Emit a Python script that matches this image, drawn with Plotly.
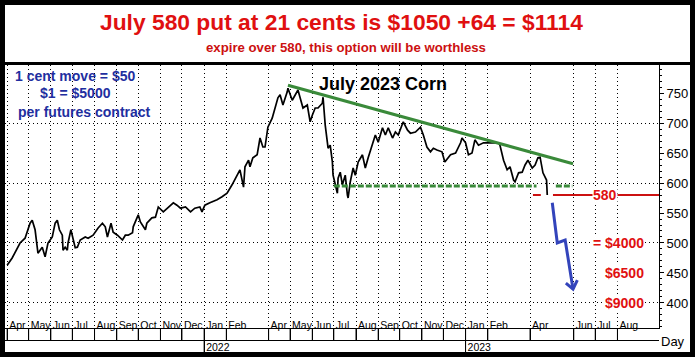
import plotly.graph_objects as go

# ---------------- data ----------------
dates = [
    "2021-04-01", "2021-04-08", "2021-04-19", "2021-04-26", "2021-05-03", "2021-05-06",
    "2021-05-10", "2021-05-13", "2021-05-14", "2021-05-20", "2021-05-24", "2021-05-28",
    "2021-06-03", "2021-06-07", "2021-06-10", "2021-06-13", "2021-06-17", "2021-06-18",
    "2021-06-21", "2021-06-24", "2021-06-25", "2021-06-29", "2021-07-01", "2021-07-05",
    "2021-07-08", "2021-07-12", "2021-07-19", "2021-07-23", "2021-07-30", "2021-08-06",
    "2021-08-12", "2021-08-16", "2021-08-19", "2021-08-24", "2021-08-27", "2021-09-02",
    "2021-09-09", "2021-09-13", "2021-09-17", "2021-09-23", "2021-09-24", "2021-10-01",
    "2021-10-04", "2021-10-11", "2021-10-13", "2021-10-20", "2021-10-25", "2021-10-29",
    "2021-11-05", "2021-11-12", "2021-11-19", "2021-11-24", "2021-11-29", "2021-12-06",
    "2021-12-13", "2021-12-19", "2021-12-26", "2021-12-29", "2022-01-02", "2022-01-09",
    "2022-01-19", "2022-01-26", "2022-02-02", "2022-02-09", "2022-02-11", "2022-02-20",
    "2022-02-25", "2022-02-27", "2022-03-04", "2022-03-06", "2022-03-10", "2022-03-16",
    "2022-03-20", "2022-03-23", "2022-03-24", "2022-03-27", "2022-03-30", "2022-03-31",
    "2022-04-06", "2022-04-10", "2022-04-14", "2022-04-17", "2022-04-21", "2022-04-27",
    "2022-04-28", "2022-05-04", "2022-05-08", "2022-05-12", "2022-05-15", "2022-05-19",
    "2022-05-25", "2022-05-29", "2022-06-01", "2022-06-05", "2022-06-09", "2022-06-15",
    "2022-06-16", "2022-06-19", "2022-06-22", "2022-06-23", "2022-06-26", "2022-06-29",
    "2022-06-30", "2022-07-03", "2022-07-06", "2022-07-07", "2022-07-10", "2022-07-13",
    "2022-07-17", "2022-07-20", "2022-07-21", "2022-07-24", "2022-07-28", "2022-07-31",
    "2022-08-04", "2022-08-10", "2022-08-14", "2022-08-18", "2022-08-24", "2022-08-28",
    "2022-09-01", "2022-09-07", "2022-09-11", "2022-09-15", "2022-09-21", "2022-09-25",
    "2022-09-29", "2022-10-05", "2022-10-06", "2022-10-12", "2022-10-16", "2022-10-23",
    "2022-10-30", "2022-11-03", "2022-11-08", "2022-11-13", "2022-11-17", "2022-11-22",
    "2022-11-29", "2022-12-03", "2022-12-11", "2022-12-18", "2022-12-25", "2022-12-27",
    "2023-01-01", "2023-01-05", "2023-01-10", "2023-01-14", "2023-01-19", "2023-01-26",
    "2023-02-02", "2023-02-09", "2023-02-16", "2023-02-18", "2023-02-23", "2023-02-28",
    "2023-03-04", "2023-03-09", "2023-03-11", "2023-03-16", "2023-03-21", "2023-03-25",
    "2023-03-29", "2023-04-04", "2023-04-08", "2023-04-12", "2023-04-15", "2023-04-19",
    "2023-04-24", "2023-04-25",
]
prices = [
    463, 475, 500, 508, 533, 538,
    522, 493, 483, 493, 477, 500,
    510, 533, 538, 522, 513, 488,
    493, 488, 500, 522, 510, 492,
    493, 505, 510, 508, 513, 525,
    533, 527, 510, 533, 518, 513,
    505, 513, 513, 517, 527, 547,
    535, 522, 533, 542, 543, 560,
    552, 560, 567, 563, 558, 560,
    552, 558, 560, 552, 563, 567,
    572, 577, 583, 597, 602, 622,
    593, 627, 638, 627, 642, 647,
    675, 663, 660, 660, 688, 693,
    708, 725, 742, 747, 730, 752,
    758, 738, 747, 755, 742, 725,
    730, 702, 713, 725, 725, 733,
    743, 697, 668, 658, 663, 635,
    613, 597, 583, 608, 618, 597,
    613, 580, 575, 602, 625, 613,
    635, 647, 625, 642, 663, 680,
    668, 692, 680, 692, 675, 685,
    680, 697, 702, 688, 683, 685,
    693, 680, 660, 652, 658, 655,
    652, 635, 647, 650, 667, 675,
    667, 647, 650, 672, 663, 667,
    667, 667, 667, 663, 638, 622,
    627, 605, 602, 617, 618, 630,
    638, 625, 630, 642, 643, 617,
    605, 580,
]

trend_dates = ["2022-04-28", "2023-05-31"]
trend_values = [763, 632]
support_dates_a = ["2022-07-01", "2023-04-10"]
support_dates_b = ["2023-05-07", "2023-05-30"]
support_level = 595
strike_level = 580
strike_short_dates = ["2023-04-05", "2023-04-16"]
strike_long_dates = ["2023-05-03", "2023-09-28"]
arrow_dates = ["2023-05-02", "2023-05-09", "2023-05-20", "2023-05-31"]
arrow_values = [567, 500, 505, 423]
head_dates = ["2023-05-21", "2023-05-31", "2023-06-06"]
head_values = [433, 423, 438]

month_ticks = [
    "2021-04-01", "2021-05-01", "2021-06-01", "2021-07-01", "2021-08-01", "2021-09-01",
    "2021-10-01", "2021-11-01", "2021-12-01", "2022-01-01", "2022-02-01", "2022-04-01",
    "2022-05-01", "2022-06-01", "2022-07-01", "2022-08-01", "2022-09-01", "2022-10-01",
    "2022-11-01", "2022-12-01", "2023-01-01", "2023-02-01", "2023-04-01", "2023-06-01",
    "2023-07-01", "2023-08-01",
]
month_labels = [
    "Apr", "May", "Jun", "Jul", "Aug", "Sep", "Oct", "Nov", "Dec", "Jan", "Feb", "Apr",
    "May", "Jun", "Jul", "Aug", "Sep", "Oct", "Nov", "Dec", "Jan", "Feb", "Apr", "Jun",
    "Jul", "Aug",
]
year_ticks = ["2022-01-01", "2023-01-01"]
year_labels = ["2022", "2023"]
price_ticks = [400, 450, 500, 550, 600, 650, 700, 750]
grid_levels = [400, 500, 600, 700]
money_levels = [500, 450, 400]
money_labels = ["= $4000", "$6500", "$9000"]

x_range = ["2021-03-29", "2023-09-28"]
y_range = [358.3, 796.7]

GREEN = "#3a8a3a"
RED = "#e01010"
BLUE = "#3344bb"
NAVY = "#1f2fa0"
FONT = "Liberation Sans"

fig = go.Figure()

# price series stays on the main axes (x, y) so they keep drawing ticks and grid
fig.add_trace(go.Scatter(x=dates, y=prices, mode="lines",
                         line=dict(color="black", width=1.7)))
# overlay lines on (x, y2): drawn above the dotted horizontal grid of y2
fig.add_trace(go.Scatter(x=trend_dates, y=trend_values, mode="lines",
                         line=dict(color=GREEN, width=3), hoverinfo="skip", yaxis="y2"))
fig.add_trace(go.Scatter(x=support_dates_a, y=[support_level] * 2, mode="lines",
                         line=dict(color=GREEN, width=3, dash="6px,2px"), hoverinfo="skip",
                         yaxis="y2"))
fig.add_trace(go.Scatter(x=support_dates_b, y=[support_level] * 2, mode="lines",
                         line=dict(color=GREEN, width=3, dash="6px,2px"), hoverinfo="skip",
                         yaxis="y2"))
fig.add_trace(go.Scatter(x=arrow_dates, y=arrow_values, mode="lines",
                         line=dict(color=BLUE, width=3), hoverinfo="skip", yaxis="y2"))
fig.add_trace(go.Scatter(x=head_dates, y=head_values, mode="lines",
                         line=dict(color=BLUE, width=3), hoverinfo="skip", yaxis="y2"))
# strike lines on (x2, y): keeps the year axis drawn
fig.add_trace(go.Scatter(x=strike_short_dates, y=[strike_level] * 2, mode="lines",
                         line=dict(color="#cc1111", width=2), hoverinfo="skip",
                         xaxis="x2"))
fig.add_trace(go.Scatter(x=strike_long_dates, y=[strike_level] * 2, mode="lines",
                         line=dict(color="#cc1111", width=2), hoverinfo="skip",
                         xaxis="x2"))


def note(text, x, y, size, color, bold=True, **kw):
    d = dict(text=("<b>%s</b>" % text) if bold else text, x=x, y=y, showarrow=False,
             xanchor="center", yanchor="middle", font=dict(family=FONT, size=size, color=color))
    d.update(kw)
    return d


annotations = [
    note("July 580 put at 21 cents is $1050 +64 = $1114", 0.5145, 1.156, 22.8, RED,
         xref="paper", yref="paper"),
    note("expire over 580, this option will be worthless", 0.521, 1.065, 13.2, "#cc1010",
         xref="paper", yref="paper"),
    note("1 cent move = $50", 0.107, 0.96, 14, NAVY, xref="paper", yref="paper"),
    note("$1 = $5000", 0.108, 0.898, 14, NAVY, xref="paper", yref="paper"),
    note("per futures contract", 0.121, 0.829, 14, NAVY, xref="paper", yref="paper"),
    note("July 2023 Corn", 0.578, 0.931, 18, "black", xref="paper", yref="paper"),
    note("580", "2023-07-15", strike_level, 14, RED, bgcolor="white", borderpad=0),
    note("Day", 1.0214, -0.004, 13, "black", bold=False, xref="paper", yref="paper"),
]
for lvl, lab in zip(money_levels, money_labels):
    annotations.append(note(lab, "2023-09-08", lvl, 14, RED, xanchor="right",
                            bgcolor="white", borderpad=0))

H = 275.0
W = 654.0
shapes = [
    dict(type="rect", xref="paper", yref="paper", x0=(2.5 - 5) / W, x1=(692.5 - 5) / W,
         y0=(340 - 354.5) / H, y1=(340 - 2.5) / H, line=dict(color="black", width=5)),
    dict(type="line", xref="paper", yref="paper", x0=(2.5 - 5) / W, x1=(692.5 - 5) / W,
         y0=(340 - 63.5) / H, y1=(340 - 63.5) / H, line=dict(color="black", width=3)),
]
# month / year separators in the date strip below the plot
for t in month_ticks:
    shapes.append(dict(type="line", xref="x", yref="paper", x0=t, x1=t, y0=0, y1=12 / H,
                       line=dict(color="black", width=1)))
for t in year_ticks:
    shapes.append(dict(type="line", xref="x", yref="paper", x0=t, x1=t, y0=-12 / H, y1=0,
                       line=dict(color="black", width=1)))

fig.update_layout(
    width=695, height=357,
    margin=dict(l=5, r=36, t=65, b=17, autoexpand=False),
    paper_bgcolor="white", plot_bgcolor="white",
    showlegend=False,
    font=dict(family=FONT, size=12, color="black"),
    annotations=annotations,
    shapes=shapes,
    xaxis=dict(
        type="date", range=x_range, tickmode="array", tickvals=month_ticks, ticktext=month_labels,
        ticks="outside", ticklen=12, tickcolor="black", tickwidth=1, tickangle=0,
        ticklabelposition="outside right", ticklabelstandoff=-13, ticklabelshift=1,
        tickfont=dict(family=FONT, size=10.5, color="black"),
        showline=True, linecolor="black", linewidth=1, mirror=True, automargin=False,
        showgrid=True, gridcolor="black", gridwidth=1, griddash="1px,3px",
        zeroline=False, fixedrange=True,
    ),
    xaxis2=dict(
        type="date", range=x_range, overlaying="x", anchor="free", position=0, side="bottom",
        tickmode="array", tickvals=year_ticks, ticktext=year_labels, tickangle=0,
        ticks="outside", ticklen=12, tickcolor="black", automargin=False,
        ticklabelposition="outside right", ticklabelstandoff=-3, ticklabelshift=1,
        tickfont=dict(family=FONT, size=10.5, color="black"),
        showline=True, linecolor="black", linewidth=1, showgrid=False, zeroline=False,
    ),
    yaxis=dict(
        domain=[12 / H, 1], range=y_range, side="right", tickmode="array", tickvals=price_ticks,
        ticks="outside", ticklen=4, tickcolor="black", automargin=False,
        tickfont=dict(family=FONT, size=13, color="black"),
        minor=dict(tickmode="linear", tick0=400, dtick=10, ticks="outside", ticklen=2,
                   tickcolor="black", showgrid=False),
        showline=True, linecolor="black", linewidth=1, mirror=True,
        showgrid=False, zeroline=False,
    ),
    yaxis2=dict(
        range=y_range, overlaying="y", side="left", anchor="x", tickmode="array",
        tickvals=grid_levels, showticklabels=False, ticks="", showgrid=True,
        gridcolor="black", gridwidth=1, griddash="1px,3px", zeroline=False,
        showline=False, automargin=False,
    ),
)

fig.write_html("out.html", config={"displayModeBar": False},
               post_script="document.body.style.margin='0px';")
